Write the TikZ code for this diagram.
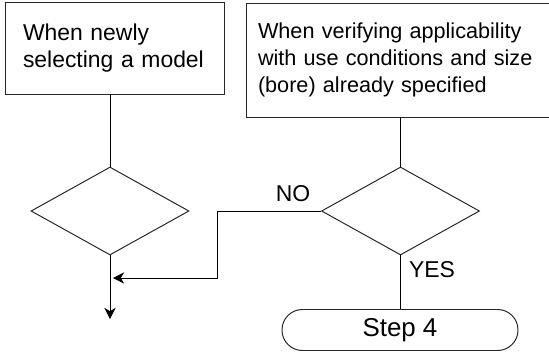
\documentclass[tikz,border=0pt]{standalone}
\usepackage{fontspec}
\setmainfont{Liberation Sans}
\usetikzlibrary{shapes.geometric,arrows.meta}

\begin{document}
\begin{tikzpicture}[-,>={Stealth[length=8pt,width=8pt,inset=2.5pt]},line width=0.7pt,
  font=\fontsize{16.3}{19.2}\selectfont,
  box node/.style={rectangle,draw=black!85,align=left,inner ysep=0pt},
  dec node/.style={diamond,draw=black!85,minimum width=3.95cm,minimum height=2.2cm,inner sep=0pt},
  end node/.style={rectangle,draw=black!85,rounded corners=14.5pt,minimum width=5.9cm,minimum height=1.025cm,font=\fontsize{18.4}{20}\selectfont}]

            \useasboundingbox (0,0) rectangle (13.725,-8.85);

            \node[box node, text width=4.575cm, inner xsep=0.45cm, minimum height=2.3cm] (1) at (2.8625,-1.2) {When newly\\selecting a model};
            \node[box node, text width=7cm, inner xsep=0.3cm, minimum height=2.85cm, font=\fontsize{15.4}{19}\selectfont] (3) at (9.95,-1.5) {When verifying applicability\\with use conditions and size\\(bore) already specified};
            \node[dec node] (2) at (2.75,-5.275) {};
            \node[dec node] (4) at (10.0125,-5.275) {};
            \node[end node] (5) at (10,-8.25) {Step 4};

            \node (no) at (7.325,-4.8375) {NO};
            \node (yes) at (10.8,-6.7375) {YES};

            \coordinate (6) at (2.75,-7.975);
            \coordinate (7) at (5.425,-6.95);
            \coordinate (8) at (2.825,-6.95);

            \draw[-] (1.south -| 2.north) to (2.north);
            \draw[-] (3.south -| 4.north) to (4.north);
            \draw[-] (4.south) to (5.north -| 4.south);
            \draw[->] (2.south) to (6);
            \draw[->] (4.west) -| (7) -- (8);

            ;
        \end{tikzpicture}
\end{document}
